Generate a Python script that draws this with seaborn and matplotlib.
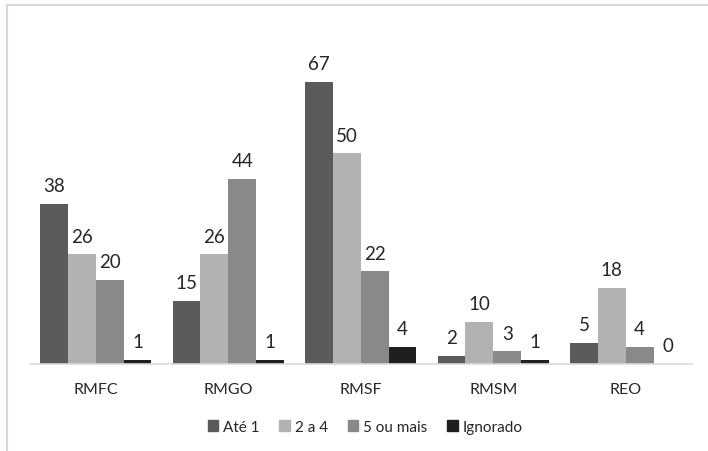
import matplotlib
matplotlib.use("Agg")
import matplotlib.pyplot as plt
import seaborn as sns
import pandas as pd
from matplotlib.lines import Line2D

regions = ["RMFC", "RMGO", "RMSF", "RMSM", "REO"]
series = ["Até 1", "2 a 4", "5 ou mais", "Ignorado"]
ate_1 = [38, 15, 67, 2, 5]
dois_a_quatro = [26, 26, 50, 10, 18]
cinco_ou_mais = [20, 44, 22, 3, 4]
ignorado = [1, 1, 4, 1, 0]
colors = ["#5b5b5b", "#b2b2b2", "#898989", "#1f1f1f"]

rows = []
for name, vals in zip(series, [ate_1, dois_a_quatro, cinco_ou_mais, ignorado]):
    for reg, v in zip(regions, vals):
        rows.append({"Região": reg, "Grupo": name, "Valor": v})
df = pd.DataFrame(rows)

sns.set_theme(style="white")
plt.rcParams["font.family"] = ["Lato", "DejaVu Sans"]

W, H = 708, 452
fig = plt.figure(figsize=(W / 100, H / 100), dpi=100)
ax = fig.add_axes([29.5 / W, 1 - 365 / H, (692 - 29.5) / W, (365 - 28) / H])

sns.barplot(data=df, x="Região", y="Valor", hue="Grupo", order=regions,
            hue_order=series, palette=colors, width=0.84, saturation=1,
            linewidth=0, ax=ax, legend=False)

for cont in ax.containers:
    ax.bar_label(cont, fmt="%d", padding=7, fontsize=13.5, color="#262626")

ax.set_ylim(0, 80)
ax.set_xlim(-0.5, 4.5)
ax.set_xlabel("")
ax.set_ylabel("")
ax.set_yticks([])
for s in ["top", "left", "right"]:
    ax.spines[s].set_visible(False)
ax.spines["bottom"].set_color("#d9d9d9")
ax.spines["bottom"].set_linewidth(1.2)
ax.tick_params(axis="x", length=0, pad=13, labelsize=11.5, labelcolor="#262626")

handles = [plt.Rectangle((0, 0), 1, 1, color=c) for c in colors]
fig.legend(handles, series, loc="center", bbox_to_anchor=(365 / W, 1 - 428 / H),
           ncol=4, frameon=False, fontsize=11, handlelength=0.7,
           handleheight=0.7, handletextpad=0.3, columnspacing=1.3,
           labelcolor="#262626")

# outer frame lines
fig.add_artist(Line2D([7 / W, 7 / W], [0, 1 - 6 / H], transform=fig.transFigure,
                      color="#d9d9d9", lw=1.5))
fig.add_artist(Line2D([7 / W, 1], [1 - 6 / H, 1 - 6 / H], transform=fig.transFigure,
                      color="#d9d9d9", lw=1.5))

fig.savefig("out.png", dpi=100)
